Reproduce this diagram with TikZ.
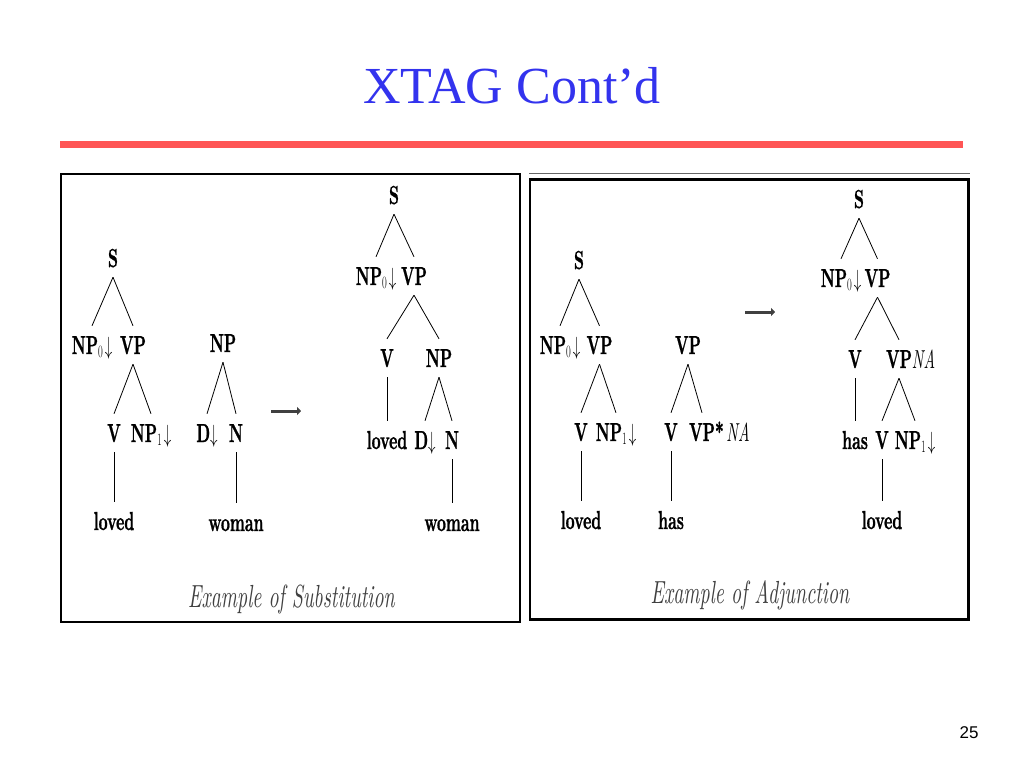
\documentclass[tikz,border=0pt]{standalone}
\usepackage{fontspec}
\usepackage{graphicx}
\usetikzlibrary{arrows.meta}
\newfontfamily\titlefont{Liberation Serif}
\newfontfamily\numfont{Liberation Sans}
\newfontfamily\treefont[Extension=.otf, FakeBold=1.2]{lmroman10-bold}
\newfontfamily\capfont[Extension=.otf]{lmroman10-italic}
\definecolor{titleblue}{RGB}{51,51,238}
\definecolor{barred}{RGB}{255,85,85}
\newcommand{\tlab}[1]{\scalebox{0.6}[1]{#1}}
\newcommand{\caplab}[1]{\scalebox{0.62}[1]{#1}}
\newcommand{\na}{{\capfont NA}}
\begin{document}
\begin{tikzpicture}[x=1pt, y=-1pt,
    tn/.style={inner xsep=0pt, inner ysep=10pt, text height=18pt, text depth=0pt,
      font=\treefont\fontsize{26}{26}\selectfont},
    branch/.style={line width=0.8pt},
    caption/.style={anchor=base, inner sep=0pt, text=black!75,
      font=\capfont\fontsize{32}{32}\selectfont},
    sarrow/.style={line width=3pt, black!75, -{Triangle[length=4pt,width=8pt]}}]
    \useasboundingbox (0,0) rectangle (1024,768);
    \fill[white] (0,0) rectangle (1024,768);
    % title and bar
    \node[anchor=base, inner sep=0pt, text=titleblue, font=\titlefont\fontsize{52}{52}\selectfont] (title) at (512,103) {XTAG Cont’d};
    \fill[barred] (60,141) rectangle (963,148);
    % frames
    \draw[line width=2.2pt] (61,174) rectangle (520,622);
    \draw[line width=1pt, black!60] (529,173) -- (970,173);
    \draw[line width=2.6pt] (530,179.5) rectangle (968.5,619.5);
    % substitution: initial tree
    \node[tn] (aS) at (113,258) {\tlab{S}};
    \node[tn] (aNP) at (92,345) {\tlab{NP$_0\!\downarrow$}};
    \node[tn] (aVP) at (133,345) {\tlab{VP}};
    \node[tn] (aV) at (114,433) {\tlab{V}};
    \node[tn] (aNPone) at (151,433) {\tlab{NP$_1\!\downarrow$}};
    \node[tn] (aloved) at (114,521) {\tlab{loved}};
    \draw[branch] (aS.south) -- (aNP.north);
    \draw[branch] (aS.south) -- (aVP.north);
    \draw[branch] (aVP.south) -- (aV.north);
    \draw[branch] (aVP.south) -- (aNPone.north);
    \draw[branch] (aV.south) -- (aloved.north);
    % substitution: NP tree
    \node[tn] (bNP) at (223,343) {\tlab{NP}};
    \node[tn] (bD) at (207,433) {\tlab{D$\downarrow$}};
    \node[tn] (bN) at (236,433) {\tlab{N}};
    \node[tn] (bwoman) at (236,522) {\tlab{woman}};
    \draw[branch] (bNP.south) -- (bD.north);
    \draw[branch] (bNP.south) -- (bN.north);
    \draw[branch] (bN.south) -- (bwoman.north);
    \coordinate (arrA) at (271,411);
    \coordinate (arrB) at (301,411);
    \draw[sarrow] (arrA) -- (arrB);
    % substitution: result
    \node[tn] (cS) at (394,195) {\tlab{S}};
    \node[tn] (cNP) at (376,276) {\tlab{NP$_0\!\downarrow$}};
    \node[tn] (cVP) at (414,276) {\tlab{VP}};
    \node[tn] (cV) at (387,358) {\tlab{V}};
    \node[tn] (cNPb) at (439,358) {\tlab{NP}};
    \node[tn] (cloved) at (387,440) {\tlab{loved}};
    \node[tn] (cD) at (425,440) {\tlab{D$\downarrow$}};
    \node[tn] (cN) at (452,440) {\tlab{N}};
    \node[tn] (cwoman) at (452,522) {\tlab{woman}};
    \draw[branch] (cS.south) -- (cNP.north);
    \draw[branch] (cS.south) -- (cVP.north);
    \draw[branch] (cVP.south) -- (cV.north);
    \draw[branch] (cVP.south) -- (cNPb.north);
    \draw[branch] (cV.south) -- (cloved.north);
    \draw[branch] (cNPb.south) -- (cD.north);
    \draw[branch] (cNPb.south) -- (cN.north);
    \draw[branch] (cN.south) -- (cwoman.north);
    \node[caption] (capsub) at (291.5,607) {\caplab{Example of Substitution}};
    % adjunction: initial tree
    \node[tn] (dS) at (579,260) {\tlab{S}};
    \node[tn] (dNP) at (560,345) {\tlab{NP$_0\!\downarrow$}};
    \node[tn] (dVP) at (599.5,345) {\tlab{VP}};
    \node[tn] (dV) at (581,432) {\tlab{V}};
    \node[tn] (dNPone) at (616,432) {\tlab{NP$_1\!\downarrow$}};
    \node[tn] (dloved) at (581,520) {\tlab{loved}};
    \draw[branch] (dS.south) -- (dNP.north);
    \draw[branch] (dS.south) -- (dVP.north);
    \draw[branch] (dVP.south) -- (dV.north);
    \draw[branch] (dVP.south) -- (dNPone.north);
    \draw[branch] (dV.south) -- (dloved.north);
    % adjunction: auxiliary tree
    \node[tn] (eVP) at (688,345) {\tlab{VP}};
    \node[tn] (eV) at (671,432) {\tlab{V}};
    \node[tn] (eVPfoot) at (702,432) {\tlab{VP\rlap{*\,\na}}};
    \node[tn] (ehas) at (671,520) {\tlab{has}};
    \draw[branch] (eVP.south) -- (eV.north);
    \draw[branch] (eVP.south) -- (eVPfoot.north);
    \draw[branch] (eV.south) -- (ehas.north);
    \coordinate (arrC) at (745,312);
    \coordinate (arrD) at (775,312);
    \draw[sarrow] (arrC) -- (arrD);
    % adjunction: result
    \node[tn] (fS) at (859,199) {\tlab{S}};
    \node[tn] (fNP) at (841,278) {\tlab{NP$_0\!\downarrow$}};
    \node[tn] (fVP) at (877.5,278) {\tlab{VP}};
    \node[tn] (fV) at (855,359) {\tlab{V}};
    \node[tn] (fVPna) at (899,359) {\tlab{VP\rlap{\na}}};
    \node[tn] (fhas) at (855,440) {\tlab{has}};
    \node[tn] (fVb) at (882,440) {\tlab{V}};
    \node[tn] (fNPone) at (915,440) {\tlab{NP$_1\!\downarrow$}};
    \node[tn] (floved) at (882,520) {\tlab{loved}};
    \draw[branch] (fS.south) -- (fNP.north);
    \draw[branch] (fS.south) -- (fVP.north);
    \draw[branch] (fVP.south) -- (fV.north);
    \draw[branch] (fVP.south) -- (fVPna.north);
    \draw[branch] (fV.south) -- (fhas.north);
    \draw[branch] (fVPna.south) -- (fVb.north);
    \draw[branch] (fVPna.south) -- (fNPone.north);
    \draw[branch] (fVb.south) -- (floved.north);
    \node[caption] (capadj) at (750,603) {\caplab{Example of Adjunction}};
    % page number
    \node[anchor=base, inner sep=0pt, font=\numfont\fontsize{17}{17}\selectfont] (pageno) at (969,738) {25};
\end{tikzpicture}
\end{document}
